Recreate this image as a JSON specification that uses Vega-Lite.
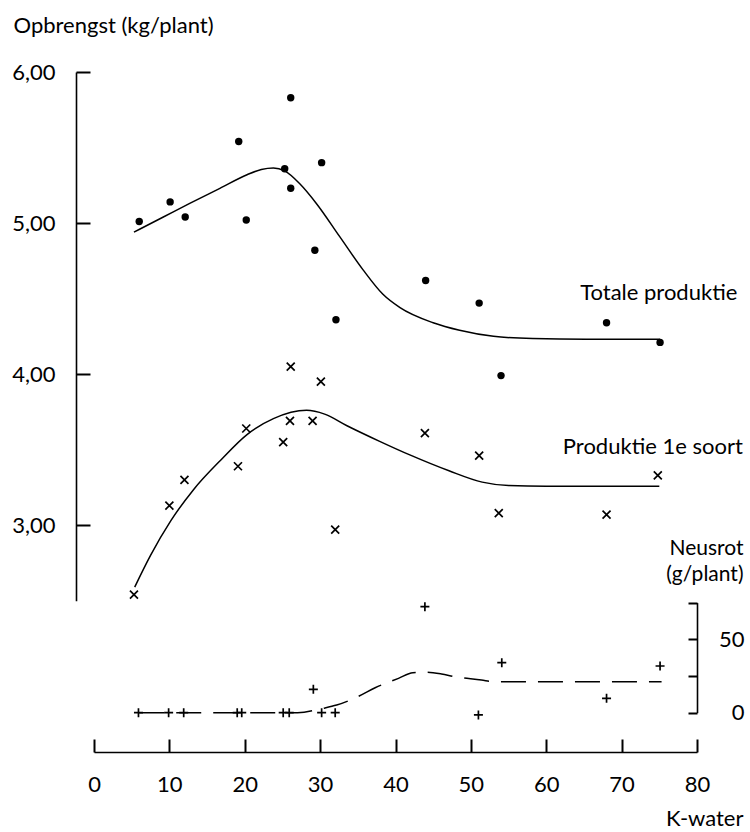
{
  "$schema": "https://vega.github.io/schema/vega-lite/v6.json",
  "width": 603,
  "height": 680,
  "autosize": "none",
  "padding": {"left": 94, "top": 72, "right": 53, "bottom": 80},
  "background": "white",
  "config": {
    "view": {"stroke": null},
    "font": "Lato",
    "axis": {
      "grid": false,
      "domainColor": "black",
      "tickColor": "black",
      "labelColor": "black",
      "titleColor": "black",
      "labelFont": "Lato",
      "titleFont": "Lato",
      "labelFontSize": 22,
      "titleFontSize": 22,
      "titleFontWeight": "normal",
      "tickWidth": 2,
      "domainWidth": 1.6
    }
  },
  "datasets": {
    "points": [
      {"k": 6.0, "opbrengst": 5.01, "series": "Totale produktie"},
      {"k": 10.1, "opbrengst": 5.14, "series": "Totale produktie"},
      {"k": 12.1, "opbrengst": 5.04, "series": "Totale produktie"},
      {"k": 19.2, "opbrengst": 5.54, "series": "Totale produktie"},
      {"k": 20.2, "opbrengst": 5.02, "series": "Totale produktie"},
      {"k": 25.3, "opbrengst": 5.36, "series": "Totale produktie"},
      {"k": 26.1, "opbrengst": 5.83, "series": "Totale produktie"},
      {"k": 26.1, "opbrengst": 5.23, "series": "Totale produktie"},
      {"k": 29.3, "opbrengst": 4.82, "series": "Totale produktie"},
      {"k": 30.2, "opbrengst": 5.40, "series": "Totale produktie"},
      {"k": 32.1, "opbrengst": 4.36, "series": "Totale produktie"},
      {"k": 44.0, "opbrengst": 4.62, "series": "Totale produktie"},
      {"k": 51.1, "opbrengst": 4.47, "series": "Totale produktie"},
      {"k": 54.0, "opbrengst": 3.99, "series": "Totale produktie"},
      {"k": 68.0, "opbrengst": 4.34, "series": "Totale produktie"},
      {"k": 75.1, "opbrengst": 4.21, "series": "Totale produktie"},
      {"k": 5.3, "opbrengst": 2.54, "series": "Produktie 1e soort"},
      {"k": 10.0, "opbrengst": 3.13, "series": "Produktie 1e soort"},
      {"k": 12.0, "opbrengst": 3.30, "series": "Produktie 1e soort"},
      {"k": 19.1, "opbrengst": 3.39, "series": "Produktie 1e soort"},
      {"k": 20.2, "opbrengst": 3.64, "series": "Produktie 1e soort"},
      {"k": 25.1, "opbrengst": 3.55, "series": "Produktie 1e soort"},
      {"k": 26.1, "opbrengst": 4.05, "series": "Produktie 1e soort"},
      {"k": 26.0, "opbrengst": 3.69, "series": "Produktie 1e soort"},
      {"k": 29.0, "opbrengst": 3.69, "series": "Produktie 1e soort"},
      {"k": 30.1, "opbrengst": 3.95, "series": "Produktie 1e soort"},
      {"k": 32.0, "opbrengst": 2.97, "series": "Produktie 1e soort"},
      {"k": 43.9, "opbrengst": 3.61, "series": "Produktie 1e soort"},
      {"k": 51.1, "opbrengst": 3.46, "series": "Produktie 1e soort"},
      {"k": 53.7, "opbrengst": 3.08, "series": "Produktie 1e soort"},
      {"k": 68.0, "opbrengst": 3.07, "series": "Produktie 1e soort"},
      {"k": 74.8, "opbrengst": 3.33, "series": "Produktie 1e soort"}
    ],
    "curves": [
      {"k": 5.3, "opbrengst": 4.94, "series": "Totale produktie"},
      {"k": 9.2, "opbrengst": 5.04, "series": "Totale produktie"},
      {"k": 12.7, "opbrengst": 5.13, "series": "Totale produktie"},
      {"k": 16.7, "opbrengst": 5.23, "series": "Totale produktie"},
      {"k": 20.3, "opbrengst": 5.32, "series": "Totale produktie"},
      {"k": 22.2, "opbrengst": 5.355, "series": "Totale produktie"},
      {"k": 23.8, "opbrengst": 5.365, "series": "Totale produktie"},
      {"k": 25.3, "opbrengst": 5.345, "series": "Totale produktie"},
      {"k": 27.3, "opbrengst": 5.26, "series": "Totale produktie"},
      {"k": 29.5, "opbrengst": 5.13, "series": "Totale produktie"},
      {"k": 32.6, "opbrengst": 4.91, "series": "Totale produktie"},
      {"k": 35.7, "opbrengst": 4.69, "series": "Totale produktie"},
      {"k": 38.3, "opbrengst": 4.53, "series": "Totale produktie"},
      {"k": 40.6, "opbrengst": 4.44, "series": "Totale produktie"},
      {"k": 45.0, "opbrengst": 4.34, "series": "Totale produktie"},
      {"k": 48.5, "opbrengst": 4.29, "series": "Totale produktie"},
      {"k": 53.0, "opbrengst": 4.25, "series": "Totale produktie"},
      {"k": 58.2, "opbrengst": 4.235, "series": "Totale produktie"},
      {"k": 65.3, "opbrengst": 4.23, "series": "Totale produktie"},
      {"k": 75.1, "opbrengst": 4.23, "series": "Totale produktie"},
      {"k": 5.4, "opbrengst": 2.59, "series": "Produktie 1e soort"},
      {"k": 7.5, "opbrengst": 2.80, "series": "Produktie 1e soort"},
      {"k": 10.2, "opbrengst": 3.03, "series": "Produktie 1e soort"},
      {"k": 13.2, "opbrengst": 3.235, "series": "Produktie 1e soort"},
      {"k": 16.8, "opbrengst": 3.43, "series": "Produktie 1e soort"},
      {"k": 20.3, "opbrengst": 3.60, "series": "Produktie 1e soort"},
      {"k": 23.8, "opbrengst": 3.705, "series": "Produktie 1e soort"},
      {"k": 28.2, "opbrengst": 3.76, "series": "Produktie 1e soort"},
      {"k": 30.6, "opbrengst": 3.735, "series": "Produktie 1e soort"},
      {"k": 33.5, "opbrengst": 3.66, "series": "Produktie 1e soort"},
      {"k": 37.9, "opbrengst": 3.555, "series": "Produktie 1e soort"},
      {"k": 41.9, "opbrengst": 3.465, "series": "Produktie 1e soort"},
      {"k": 47.1, "opbrengst": 3.36, "series": "Produktie 1e soort"},
      {"k": 51.5, "opbrengst": 3.285, "series": "Produktie 1e soort"},
      {"k": 55.0, "opbrengst": 3.262, "series": "Produktie 1e soort"},
      {"k": 60.0, "opbrengst": 3.257, "series": "Produktie 1e soort"},
      {"k": 75.0, "opbrengst": 3.257, "series": "Produktie 1e soort"}
    ],
    "labels": [
      {"k": 64.5, "opbrengst": 4.535, "label": "Totale produktie"},
      {"k": 62.2, "opbrengst": 3.52, "label": "Produktie 1e soort"}
    ],
    "neusrot": [
      {"k": 5.9, "neusrot": 0},
      {"k": 9.9, "neusrot": 0},
      {"k": 11.9, "neusrot": 0},
      {"k": 19.0, "neusrot": 0},
      {"k": 19.6, "neusrot": 0},
      {"k": 25.1, "neusrot": 0},
      {"k": 25.9, "neusrot": 0},
      {"k": 29.1, "neusrot": 15.9},
      {"k": 30.2, "neusrot": 0},
      {"k": 32.0, "neusrot": 0},
      {"k": 43.9, "neusrot": 72.2},
      {"k": 51.0, "neusrot": -1.5},
      {"k": 54.1, "neusrot": 34.1},
      {"k": 68.0, "neusrot": 9.8},
      {"k": 75.1, "neusrot": 31.8}
    ],
    "neusrotcurve": [
      {"k": 6.0, "neusrot": 0},
      {"k": 27.0, "neusrot": 0},
      {"k": 30.4, "neusrot": 3.0},
      {"k": 32.2, "neusrot": 5.2},
      {"k": 35.0, "neusrot": 10.9},
      {"k": 37.3, "neusrot": 17.0},
      {"k": 40.4, "neusrot": 23.4},
      {"k": 42.3, "neusrot": 27.2},
      {"k": 44.0, "neusrot": 27.6},
      {"k": 46.1, "neusrot": 26.4},
      {"k": 47.9, "neusrot": 24.5},
      {"k": 51.4, "neusrot": 22.3},
      {"k": 53.0, "neusrot": 21.1},
      {"k": 75.3, "neusrot": 21.1}
    ]
  },
  "encoding": {
    "x": {
      "field": "k",
      "type": "quantitative",
      "scale": {"domain": [0, 80], "nice": false, "zero": false},
      "axis": {
        "values": [0, 10, 20, 30, 40, 50, 60, 70, 80],
        "tickSize": -13,
        "labelPadding": 35,
        "labelFlush": false,
        "title": "K-water",
        "titleAngle": 0,
        "titleAlign": "right",
        "titleBaseline": "middle",
        "titleX": 649,
        "titleY": 66
      }
    }
  },
  "layer": [
    {
      "encoding": {
        "y": {
          "field": "opbrengst",
          "type": "quantitative",
          "scale": {"domain": [2.5, 6], "range": [528.7, 0], "nice": false, "zero": false},
          "axis": {
            "orient": "left",
            "offset": 18,
            "values": [3, 4, 5, 6],
            "tickSize": -14,
            "labelPadding": 35,
            "labelFlush": false,
            "labelExpr": "replace(format(datum.value, '.2f'), '.', ',')",
            "title": "Opbrengst (kg/plant)",
            "titleAngle": 0,
            "titleAlign": "left",
            "titleBaseline": "alphabetic",
            "titleX": -63,
            "titleY": -40
          }
        }
      },
      "layer": [
        {
          "data": {"name": "curves"},
          "mark": {"type": "line", "interpolate": "monotone", "color": "black", "strokeWidth": 1.5},
          "encoding": {"detail": {"field": "series"}}
        },
        {
          "data": {"name": "points"},
          "transform": [{"filter": "datum.series == 'Totale produktie'"}],
          "mark": {"type": "point", "shape": "circle", "filled": true, "color": "black", "size": 55, "opacity": 1}
        },
        {
          "data": {"name": "points"},
          "transform": [{"filter": "datum.series == 'Produktie 1e soort'"}],
          "mark": {"type": "point", "shape": "M-1,-1L1,1M-1,1L1,-1", "filled": false, "color": "black", "size": 64, "strokeWidth": 1.7, "opacity": 1}
        },
        {
          "data": {"name": "labels"},
          "mark": {"type": "text", "align": "left", "baseline": "middle", "font": "Lato", "fontSize": 22, "color": "black"},
          "encoding": {"text": {"field": "label"}}
        }
      ]
    },
    {
      "encoding": {
        "y": {
          "field": "neusrot",
          "type": "quantitative",
          "scale": {"domain": [0, 75], "range": [640.7, 530.6], "nice": false, "zero": false},
          "axis": {
            "orient": "right",
            "values": [0, 25, 50, 75],
            "tickSize": -9,
            "labelPadding": 56,
            "labelAlign": "right",
            "labelFlush": false,
            "labelExpr": "datum.value == 0 || datum.value == 50 ? datum.label : ''",
            "title": ["Neusrot", "(g/plant)"],
            "titleAngle": 0,
            "titleAlign": "right",
            "titleBaseline": "middle",
            "titleFontSize": 21,
            "titleLineHeight": 26,
            "titleX": 46,
            "titleY": 476
          }
        }
      },
      "layer": [
        {
          "data": {"name": "neusrotcurve"},
          "mark": {"type": "line", "interpolate": "monotone", "color": "black", "strokeWidth": 1.5, "strokeDash": [25, 12]}
        },
        {
          "data": {"name": "neusrot"},
          "mark": {"type": "point", "shape": "M-1,0L1,0M0,-1L0,1", "filled": false, "color": "black", "size": 81, "strokeWidth": 1.7, "opacity": 1}
        }
      ]
    }
  ],
  "resolve": {"scale": {"y": "independent"}, "axis": {"y": "independent"}}
}
